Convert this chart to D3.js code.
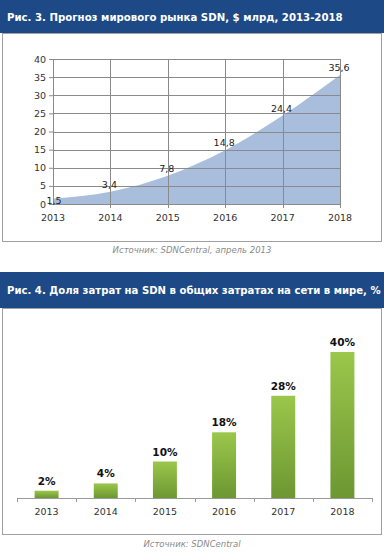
<!DOCTYPE html>
<html lang="ru">
<head>
<meta charset="utf-8">
<script src="https://d3js.org/d3.v7.min.js"></script>
<style>
  body { margin: 0; background: #fff; }
  text { font-family: "DejaVu Sans", Verdana, sans-serif; }
</style>
</head>
<body>
<div id="chart"></div>
<script>
// chart 1: market forecast, $ bn
var years = ["2013", "2014", "2015", "2016", "2017", "2018"];
var marketValues = [1.5, 3.4, 7.8, 14.8, 24.4, 35.6];
var marketTicks = [0, 5, 10, 15, 20, 25, 30, 35, 40];
// chart 2: SDN share of network spending, %
var shareValues = [2, 4, 10, 18, 28, 40];

var W = 384, H = 556;
var svg = d3.select("#chart").append("svg")
    .attr("width", W).attr("height", H);

function fitText(sel, width) {
    var len = sel.node().getComputedTextLength();
    var fs = parseFloat(sel.attr("font-size"));
    sel.attr("font-size", (fs * width / len).toFixed(2));
}

function header(y0, h, label, width) {
    svg.append("rect").attr("x", 0).attr("y", y0).attr("width", W).attr("height", h)
        .attr("fill", "#1d4a86");
    var t = svg.append("text").attr("x", 7).attr("y", y0 + h / 2 + 4)
        .attr("font-size", 12).attr("font-weight", "bold").attr("fill", "#fff")
        .text(label);
    fitText(t, width);
}

// ---------- top panel ----------
header(0, 33, "Рис. 3. Прогноз мирового рынка SDN, $ млрд, 2013-2018", 336);
svg.append("rect").attr("x", 2.5).attr("y", 33.5).attr("width", 379).attr("height", 208)
    .attr("fill", "none").attr("stroke", "#a0a0a0");

var x1 = d3.scalePoint().domain(years).range([53, 340]);
var y1 = d3.scaleLinear().domain([0, 40]).range([204, 59]);

var g1 = svg.append("g");

// area first, grid on top
g1.append("path")
    .datum(marketValues)
    .attr("fill", "#a8bedc")
    .attr("d", d3.area()
        .x(function (d, i) { return x1(years[i]); })
        .y0(y1(0))
        .y1(function (d) { return y1(d); })
        .curve(d3.curveMonotoneX));

g1.append("g")
    .attr("transform", "translate(" + x1(years[0]) + ",0)")
    .call(d3.axisLeft(y1).tickValues(marketTicks).tickSize(4).tickPadding(3))
    .call(function (a) {
        a.select(".domain").attr("stroke", "#8a8a8a");
        a.selectAll(".tick line").attr("stroke", "#8a8a8a");
        a.selectAll(".tick text").attr("font-size", 9.5).attr("fill", "#333")
            .attr("font-family", "DejaVu Sans");
    });

// horizontal grid
g1.selectAll(".hgrid").data(marketTicks.slice(1)).enter().append("line")
    .attr("x1", x1(years[0])).attr("x2", x1(years[5]))
    .attr("y1", function (d) { return Math.round(y1(d)) + 0.5; })
    .attr("y2", function (d) { return Math.round(y1(d)) + 0.5; })
    .attr("stroke", "#8a8a8a").attr("stroke-width", 1);

// vertical grid
g1.selectAll(".vgrid").data(years.slice(1)).enter().append("line")
    .attr("x1", function (d) { return Math.round(x1(d)) + 0.5; })
    .attr("x2", function (d) { return Math.round(x1(d)) + 0.5; })
    .attr("y1", y1(40)).attr("y2", y1(0) + 4)
    .attr("stroke", "#8a8a8a").attr("stroke-width", 1);

g1.append("line")
    .attr("x1", x1(years[0])).attr("x2", x1(years[5]))
    .attr("y1", Math.round(y1(0)) + 0.5).attr("y2", Math.round(y1(0)) + 0.5)
    .attr("stroke", "#8a8a8a");

g1.selectAll(".xlab").data(years).enter().append("text")
    .attr("x", function (d) { return x1(d); })
    .attr("y", 221)
    .attr("text-anchor", "middle").attr("font-size", 9.5).attr("fill", "#333")
    .text(function (d) { return d; });

g1.selectAll(".vlab").data(marketValues).enter().append("text")
    .attr("x", function (d, i) { return x1(years[i]) + (i === 0 ? 1 : -1); })
    .attr("y", function (d, i) { return y1(d) - (i === 0 ? -5 : 4); })
    .attr("text-anchor", "middle").attr("font-size", 9.5).attr("fill", "#222")
    .text(function (d) { return String(d).replace(".", ","); });

svg.append("text").attr("x", 192).attr("y", 253)
    .attr("text-anchor", "middle").attr("font-size", 8.5).attr("font-style", "italic")
    .attr("fill", "#8a8a8a")
    .text("Источник: SDNCentral, апрель 2013");

// ---------- bottom panel ----------
header(272, 36, "Рис. 4. Доля затрат на SDN в общих затратах на сети в мире, %", 374);
svg.append("rect").attr("x", 2.5).attr("y", 308.5).attr("width", 379).attr("height", 226)
    .attr("fill", "none").attr("stroke", "#a0a0a0");

var x2 = d3.scaleBand().domain(years).range([17, 372]).paddingInner(0.595).paddingOuter(0.2975);
var y2 = d3.scaleLinear().domain([0, 50]).range([498, 315.5]);

var grad = svg.append("defs").append("linearGradient")
    .attr("id", "barGrad").attr("x1", 0).attr("y1", 0).attr("x2", 0).attr("y2", 1);
grad.append("stop").attr("offset", "0%").attr("stop-color", "#9bc74b");
grad.append("stop").attr("offset", "100%").attr("stop-color", "#6c9732");

var g2 = svg.append("g");
g2.selectAll(".bar").data(shareValues).enter().append("rect")
    .attr("x", function (d, i) { return x2(years[i]); })
    .attr("y", function (d) { return y2(d); })
    .attr("width", x2.bandwidth())
    .attr("height", function (d) { return y2(0) - y2(d); })
    .attr("fill", "url(#barGrad)");

// category axis with ticks at band edges
var edges = d3.range(years.length + 1).map(function (i) { return 17 + i * (355 / years.length); });
g2.append("line").attr("x1", 17).attr("x2", 372)
    .attr("y1", 498.5).attr("y2", 498.5).attr("stroke", "#9a9a9a");
g2.selectAll(".etick").data(edges).enter().append("line")
    .attr("x1", function (d) { return Math.round(d) + 0.5; })
    .attr("x2", function (d) { return Math.round(d) + 0.5; })
    .attr("y1", 498).attr("y2", 502).attr("stroke", "#9a9a9a");

g2.selectAll(".xlab2").data(years).enter().append("text")
    .attr("x", function (d) { return x2(d) + x2.bandwidth() / 2; })
    .attr("y", 515)
    .attr("text-anchor", "middle").attr("font-size", 9.5).attr("fill", "#333")
    .text(function (d) { return d; });

g2.selectAll(".vlab2").data(shareValues).enter().append("text")
    .attr("x", function (d, i) { return x2(years[i]) + x2.bandwidth() / 2; })
    .attr("y", function (d) { return y2(d) - 6; })
    .attr("text-anchor", "middle").attr("font-size", 10.5).attr("font-weight", "bold")
    .attr("fill", "#111")
    .text(function (d) { return d + "%"; });

svg.append("text").attr("x", 192).attr("y", 547)
    .attr("text-anchor", "middle").attr("font-size", 8.5).attr("font-style", "italic")
    .attr("fill", "#8a8a8a")
    .text("Источник: SDNCentral");
</script>
</body>
</html>
